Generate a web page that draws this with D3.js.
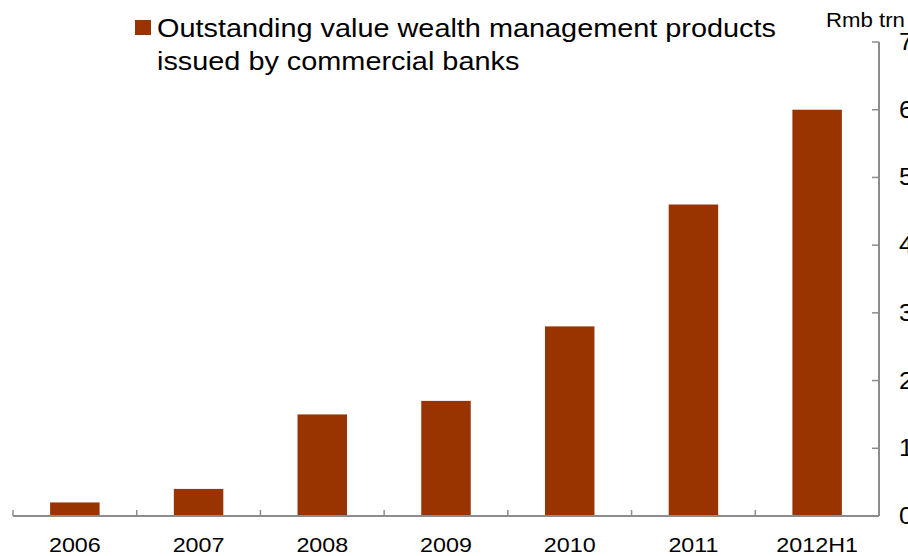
<!DOCTYPE html>
<html>
<head>
<meta charset="utf-8">
<script src="https://cdn.jsdelivr.net/npm/d3@7"></script>
<style>
  html, body { margin: 0; padding: 0; background: #fff; }
  svg { display: block; font-family: "Liberation Sans", Arial, sans-serif; }
</style>
</head>
<body>
<svg id="chart" width="908" height="556"></svg>
<script>
// Outstanding value of bank wealth management products, Rmb trn
const categories = ["2006", "2007", "2008", "2009", "2010", "2011", "2012H1"];
const values = [0.2, 0.4, 1.5, 1.7, 2.8, 4.6, 6.0];
const yTicks = [0, 1, 2, 3, 4, 5, 6, 7];
const legendLines = ["Outstanding value wealth management products", "issued by commercial banks"];
const unitLabel = "Rmb trn";

const barColor = "#993300";
const axisColor = "#8c8c8c";
const stretch = 1.11; // text is set slightly wide

const svg = d3.select("#chart");
const plot = { left: 13, right: 879, top: 42, bottom: 516 };

const x = d3.scaleBand().domain(categories).range([plot.left, plot.right]).paddingInner(0.6).paddingOuter(0.3);
const y = d3.scaleLinear().domain([0, 7]).range([plot.bottom, plot.top]);

// bars
svg.append("g").selectAll("rect").data(values).join("rect")
  .attr("x", (d, i) => x(categories[i]))
  .attr("width", x.bandwidth())
  .attr("y", d => y(d))
  .attr("height", d => y(0) - y(d))
  .attr("fill", barColor);

// category boundary ticks along the baseline
const step = (plot.right - plot.left) / categories.length;
const xBounds = d3.range(categories.length + 1).map(i => plot.left + i * step);
const gx = svg.append("g");
gx.append("line").attr("x1", plot.left).attr("x2", plot.right).attr("y1", plot.bottom).attr("y2", plot.bottom)
  .attr("stroke", axisColor).attr("stroke-width", 2);
gx.selectAll("line.t").data(xBounds).join("line").attr("class", "t")
  .attr("x1", d => d).attr("x2", d => d).attr("y1", plot.bottom).attr("y2", plot.bottom - 6)
  .attr("stroke", axisColor).attr("stroke-width", 1.5);
gx.selectAll("text").data(categories).join("text")
  .attr("transform", d => `translate(${x(d) + x.bandwidth() / 2},552) scale(${stretch},1)`)
  .attr("text-anchor", "middle")
  .attr("font-size", 21)
  .attr("fill", "#000")
  .text(d => d);

// right-hand value axis
const gy = svg.append("g");
gy.append("line").attr("x1", plot.right).attr("x2", plot.right).attr("y1", plot.top).attr("y2", plot.bottom)
  .attr("stroke", axisColor).attr("stroke-width", 2);
gy.selectAll("line.t").data(yTicks).join("line").attr("class", "t")
  .attr("x1", plot.right - 7).attr("x2", plot.right).attr("y1", d => y(d)).attr("y2", d => y(d))
  .attr("stroke", axisColor).attr("stroke-width", 1.5);
gy.selectAll("text").data(yTicks).join("text")
  .attr("transform", d => `translate(899,${y(d) + 8}) scale(${stretch},1)`)
  .attr("font-size", 23)
  .attr("fill", "#000")
  .text(d => d);

svg.append("text")
  .attr("transform", `translate(826,27) scale(${stretch},1)`)
  .attr("font-size", 20).attr("fill", "#000").text(unitLabel);

// legend
svg.append("rect").attr("x", 135).attr("y", 20).attr("width", 16).attr("height", 15).attr("fill", barColor);
svg.append("g").selectAll("text").data(legendLines).join("text")
  .attr("transform", (d, i) => `translate(157,${37 + i * 33}) scale(${stretch},1)`)
  .attr("font-size", 26)
  .attr("fill", "#000")
  .text(d => d);
</script>
</body>
</html>
